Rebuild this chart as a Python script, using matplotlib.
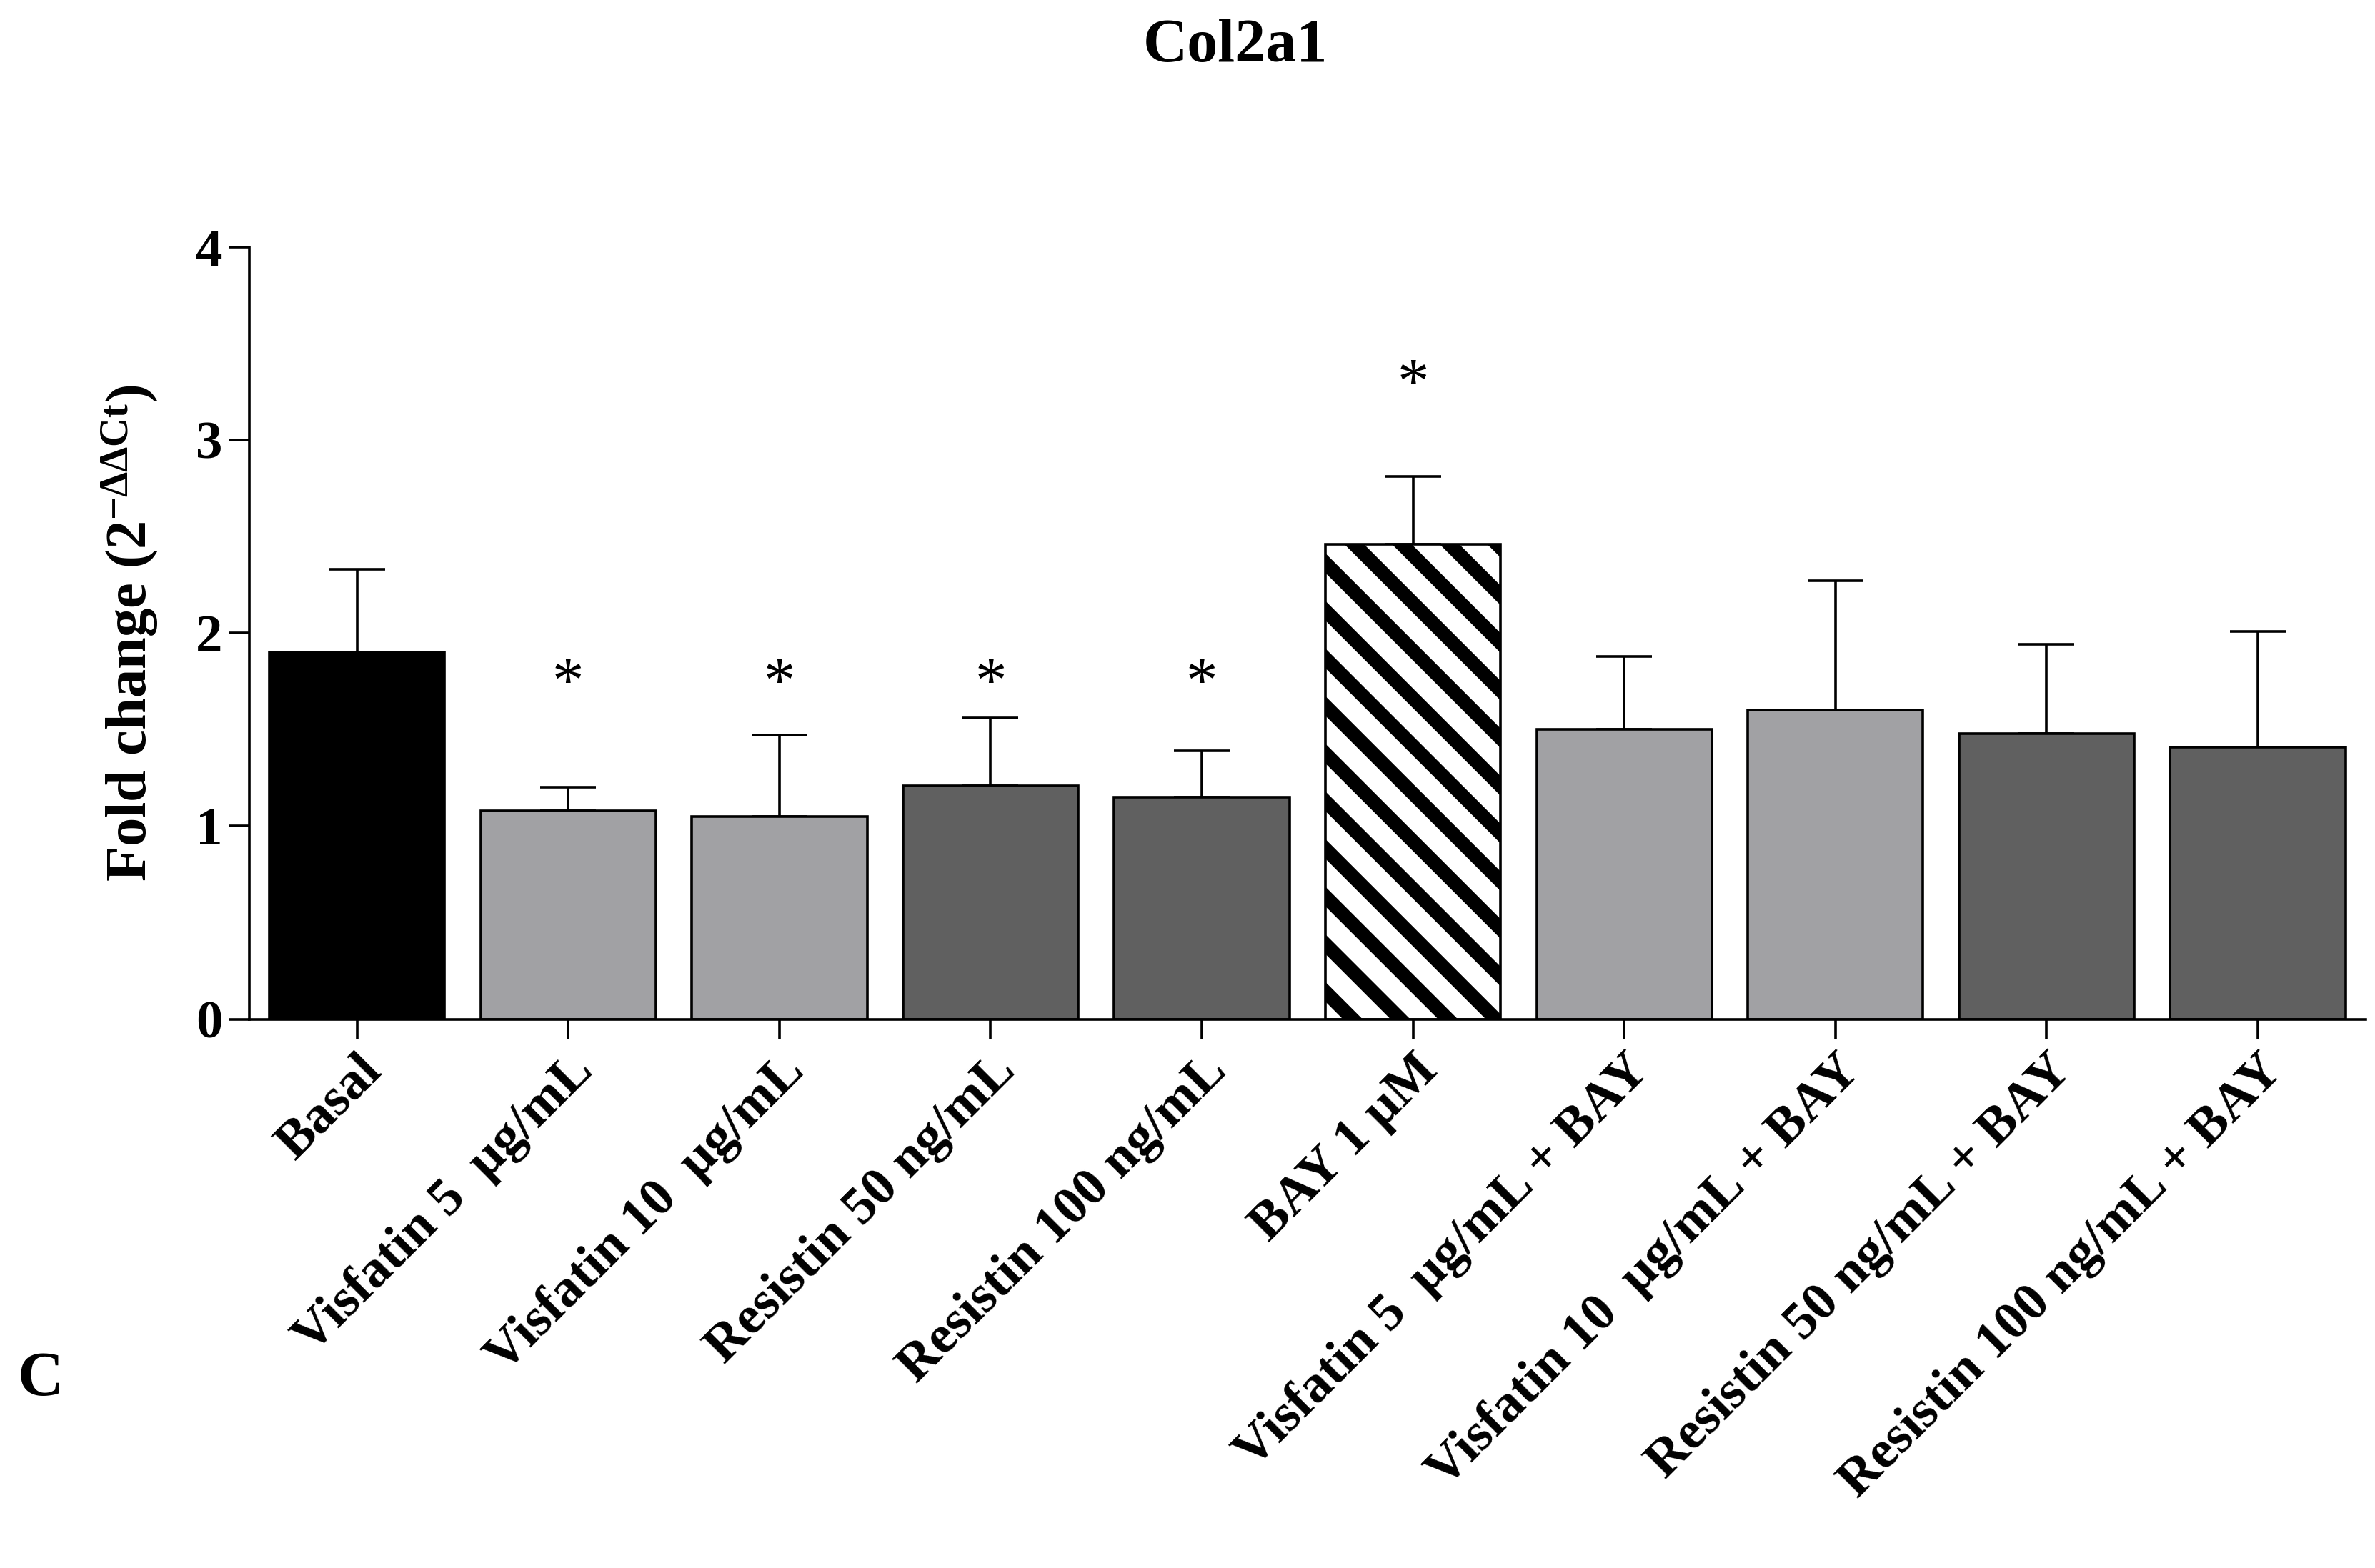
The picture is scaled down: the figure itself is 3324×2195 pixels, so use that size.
import matplotlib
matplotlib.use("Agg")
import matplotlib.pyplot as plt
import numpy as np

plt.rcParams["font.family"] = ["Liberation Serif", "DejaVu Serif"]
plt.rcParams["font.weight"] = "bold"
plt.rcParams["axes.labelweight"] = "bold"
plt.rcParams["mathtext.fontset"] = "custom"
plt.rcParams["mathtext.rm"] = "Liberation Serif:bold"
plt.rcParams["mathtext.it"] = "Liberation Serif:bold"
plt.rcParams["mathtext.default"] = "regular"
plt.rcParams["hatch.linewidth"] = 7

categories = ["Basal", "Visfatin 5  µg/mL", "Visfatin 10  µg/mL", "Resistin 50 ng/mL",
              "Resistin 100 ng/mL", "BAY 1 µM", "Visfatin 5  µg/mL + BAY",
              "Visfatin 10  µg/mL + BAY", "Resistin 50 ng/mL + BAY", "Resistin 100 ng/mL + BAY"]
means = [1.90, 1.08, 1.05, 1.21, 1.15, 2.46, 1.50, 1.60, 1.48, 1.41]
errors = [0.43, 0.12, 0.42, 0.35, 0.24, 0.35, 0.38, 0.67, 0.46, 0.60]
star_heights = [None, 1.73, 1.73, 1.73, 1.73, 3.28, None, None, None, None]

colors = ["#000000", "#a1a1a4", "#a1a1a4", "#606060", "#606060", "white",
          "#a1a1a4", "#a1a1a4", "#606060", "#606060"]

fig = plt.figure(figsize=(16.62, 10.975), dpi=200)
ax = fig.add_axes([0.105, 0.35, 0.891, 0.4925])
x = np.arange(len(categories))
bars = ax.bar(x, means, width=0.83, color=colors, edgecolor="black", linewidth=1.3, zorder=2)
bars[5].set_hatch("\\")
ax.errorbar(x, means, yerr=[np.zeros(len(means)), errors], fmt="none",
            ecolor="black", elinewidth=1.3, capsize=14, capthick=1.3, zorder=1)
for xi, h in zip(x, star_heights):
    if h is not None:
        ax.text(xi, h, "*", ha="center", va="center", fontsize=32, fontweight="normal")

ax.set_xlim(-0.51, 9.51)
ax.set_ylim(0, 4)
ax.set_yticks([0, 1, 2, 3, 4])
ax.set_xticks(x)
ax.set_xticklabels(categories, rotation=45, ha="right", rotation_mode="anchor", fontsize=27)
ax.tick_params(axis="y", labelsize=27, width=1.3, length=10)
ax.tick_params(axis="x", width=1.3, length=10)
for sp in ["top", "right"]:
    ax.spines[sp].set_visible(False)
for sp in ["left", "bottom"]:
    ax.spines[sp].set_linewidth(1.3)
ax.set_ylabel(r"Fold change (2$^{-\Delta\Delta Ct}$)", fontsize=29, labelpad=18)

fig.text(0.52, 0.97, "Col2a1", ha="center", va="center", fontsize=31)
fig.text(0.017, 0.12, "C", ha="center", va="center", fontsize=32)

fig.savefig("out.png", dpi=200)
